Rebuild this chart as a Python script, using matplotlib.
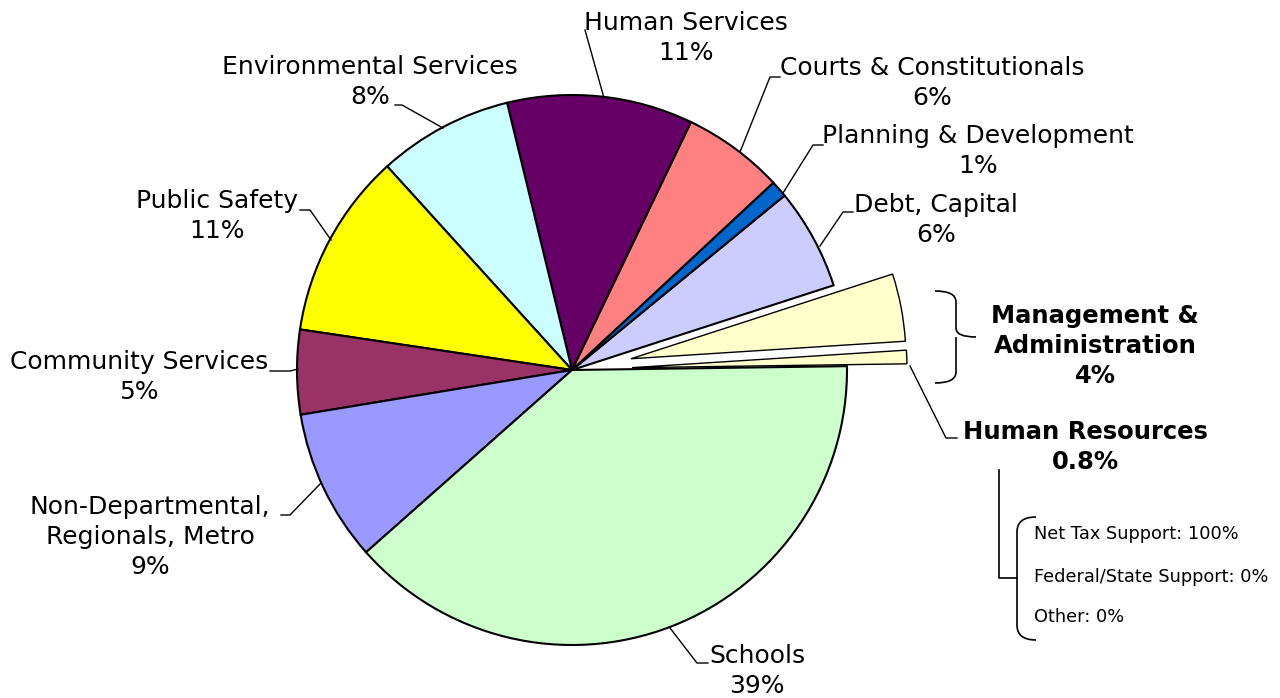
import matplotlib
matplotlib.use("Agg")
import matplotlib.pyplot as plt
from matplotlib.path import Path
from matplotlib.patches import PathPatch

# slices, counter-clockwise starting just above 3 o'clock
names = ["Human Resources", "Management &\nAdministration", "Debt, Capital",
         "Planning & Development", "Courts & Constitutionals", "Human Services",
         "Environmental Services", "Public Safety", "Community Services",
         "Non-Departmental,\nRegionals, Metro", "Schools"]
pct_labels = ["0.8%", "4%", "6%", "1%", "6%", "11%", "8%", "11%", "5%", "9%", "39%"]
values = [0.8, 4, 6, 1, 6, 11, 8, 11, 5, 9, 39]
colors = ["#FFFFCC", "#FFFFCC", "#CCCCFF", "#0066CC", "#FF8080", "#660066",
          "#CCFFFF", "#FFFF00", "#993366", "#9999FF", "#CCFFCC"]
exploded = [True, True] + [False] * 9
breakdown = ["Net Tax Support: 100%", "Federal/State Support: 0%", "Other: 0%"]

W, H = 1280, 698
fig = plt.figure(figsize=(W / 100, H / 100), dpi=100)
ax = fig.add_axes([0, 0, 1, 1])

cx, cy, R = 572, 370, 275
expl = [60 if e else 0 for e in exploded]
# y axis is inverted (pixel coords), so draw clockwise in data space
wedges, _ = ax.pie(values, colors=colors, explode=expl, startangle=-0.8,
                   counterclock=False, center=(cx, cy), radius=R,
                   wedgeprops=dict(edgecolor="black", linewidth=1.5))
for w, e in zip(wedges, exploded):
    if e:
        w.set_linewidth(1.0)

ax.set_xlim(0, W)
ax.set_ylim(H, 0)
ax.set_aspect("equal")
ax.axis("off")

fs = 18
# label text position (center) and leader line points
label_pos = {
    "Human Resources": (1085, 447),
    "Management &\nAdministration": (1095, 346),
    "Debt, Capital": (936, 220),
    "Planning & Development": (978, 151),
    "Courts & Constitutionals": (932, 83),
    "Human Services": (686, 38),
    "Environmental Services": (370, 82),
    "Public Safety": (217, 216),
    "Community Services": (139, 377),
    "Non-Departmental,\nRegionals, Metro": (150, 537),
    "Schools": (757, 671),
}
leaders = {
    "Human Resources": [(910, 366), (946, 438), (957, 438)],
    "Debt, Capital": [(853, 212), (843, 212), (820, 246)],
    "Planning & Development": [(823, 145), (813, 145), (783, 193)],
    "Courts & Constitutionals": [(780, 77), (770, 77), (740, 152)],
    "Human Services": [(585, 30), (604, 98)],
    "Environmental Services": [(395, 105), (402, 105), (443, 128)],
    "Public Safety": [(300, 210), (310, 210), (331, 240)],
    "Community Services": [(270, 371), (290, 371), (298, 369)],
    "Non-Departmental,\nRegionals, Metro": [(281, 515), (290, 515), (321, 483)],
    "Schools": [(670, 628), (697, 663), (708, 663)],
}

for name, pct in zip(names, pct_labels):
    bold = name in ("Human Resources", "Management &\nAdministration")
    x, y = label_pos[name]
    ax.text(x, y, name + "\n" + pct, ha="center", va="center",
            fontsize=17.5 if bold else fs,
            fontweight="bold" if bold else "normal", linespacing=1.3,
            color="black")
    if name in leaders:
        pts = leaders[name]
        ax.plot([p[0] for p in pts], [p[1] for p in pts], color="black", lw=1.0)

# brace grouping the two exploded slices
brace = Path([(935, 291), (956, 291), (956, 302), (956, 328), (956, 337), (976, 337),
              (956, 337), (956, 346), (956, 372), (956, 383), (935, 383)],
             [Path.MOVETO, Path.CURVE3, Path.CURVE3, Path.LINETO, Path.CURVE3, Path.CURVE3,
              Path.MOVETO, Path.CURVE3, Path.LINETO, Path.CURVE3, Path.CURVE3])
ax.add_patch(PathPatch(brace, fill=False, lw=1.2, edgecolor="black"))

# funding breakdown for Human Resources
ax.plot([999, 999, 1017], [470, 578, 578], color="black", lw=1.2)
left_brace = Path([(1036, 517), (1017, 517), (1017, 532), (1017, 625), (1017, 640), (1036, 640)],
                  [Path.MOVETO, Path.CURVE3, Path.CURVE3, Path.LINETO, Path.CURVE3, Path.CURVE3])
ax.add_patch(PathPatch(left_brace, fill=False, lw=1.2, edgecolor="black"))
for txt, yy in zip(breakdown, [534, 577, 617]):
    ax.text(1034, yy, txt, ha="left", va="center", fontsize=12.8, color="black")

fig.savefig("out.png", dpi=100)
